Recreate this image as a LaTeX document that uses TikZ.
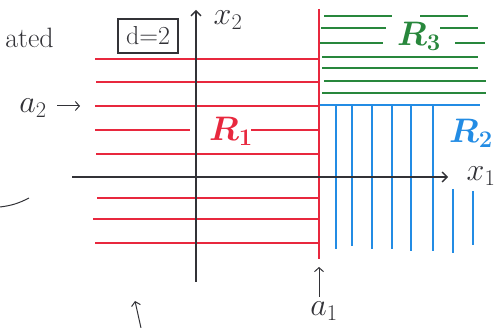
\RequirePackage{fix-cm}
\documentclass[tikz,border=0pt]{standalone}
\usetikzlibrary{arrows.meta}
\definecolor{rd}{RGB}{232,40,62}
\definecolor{gr}{RGB}{40,135,60}
\definecolor{bl}{RGB}{35,140,228}
\definecolor{ink}{RGB}{50,50,55}
\begin{document}
\begin{tikzpicture}[x=1pt,y=-1pt,
  redline/.style={rd,line width=1.6pt},
  greenline/.style={gr,line width=1.8pt},
  blueline/.style={bl,line width=1.6pt},
  axis/.style={ink,line width=1.3pt,-{Straight Barb[length=5pt,width=10pt]}},
  arr/.style={ink,line width=1pt,-{Straight Barb[length=4pt,width=9pt]}},
  lbl/.style={inner sep=0pt,font=\fontsize{32}{34}\selectfont},
  big/.style={inner sep=0pt,font=\fontsize{34}{36}\selectfont\boldmath}]
\useasboundingbox (0,0) rectangle (501,328);
% coordinates
\coordinate (x2b) at (196,282); \coordinate (x2t) at (196,10);
\coordinate (x1l) at (72,177); \coordinate (x1r) at (448,177);
\coordinate (rvt) at (319,9); \coordinate (rvb) at (319,259);
% red horizontal lines
\foreach \y/\a in {59/95,82/96,106/95,154/96,198/97,219/93,243/95}
  \draw[redline] (\a,\y) -- (318,\y);
\draw[redline] (96,177) -- (318,177);
\draw[redline] (95,130) -- (190,130);
\draw[redline] (251,130) -- (318,130);
\draw[redline] (rvt) -- (rvb);
% green lines
\draw[greenline] (324,16) -- (392,16);
\draw[greenline] (420,16) -- (468,16);
\draw[greenline] (321,28) -- (386,28);
\draw[greenline] (440,28) -- (478,28);
\draw[greenline] (320,43) -- (383,43);
\draw[greenline] (455,43) -- (485,43);
\draw[greenline] (322,57) -- (478,57);
\draw[greenline] (322,68) -- (478,68);
\draw[greenline] (324,81) -- (486,81);
\draw[greenline] (322,93) -- (486,93);
% blue lines
\draw[blueline] (320,105) -- (480,105);
\foreach \x/\b in {336/249,352/246,372/249,392/249,411/251,433/251}
  \draw[blueline] (\x,105) -- (\x,\b);
\draw[blueline] (453,189) -- (453,253);
\draw[blueline] (473,191) -- (473,245);
% axes
\draw[axis] (x2b) -- (x2t);
\draw[axis] (x1l) -- (x1r);
% labels
\node[lbl,ink] (lx2) at (228,20) {$x_2$};
\node[lbl,ink] (lx1) at (481,176) {$x_1$};
\node[big,rd] (R1) at (231,131) {$R_1$};
\node[big,gr] (R3) at (419,36) {$R_3$};
\node[big,bl] (R2) at (471,133) {$R_2$};
\node[lbl,ink] (la1) at (324,311) {$a_1$};
\node[lbl,ink] (la2) at (33,108) {$a_2$};
\node[ink,inner sep=0pt,font=\fontsize{28}{30}\selectfont,anchor=base east] (ated) at (54,48) {ated};
\node[ink,draw,line width=1.2pt,minimum width=60pt,minimum height=34pt,inner sep=0pt,font=\fontsize{26}{28}\selectfont] (d2) at (148,36) {d=2};
% arrows
\coordinate (a1s) at (319,297); \coordinate (a1e) at (319,267);
\draw[arr] (a1s) -- (a1e);
\coordinate (a2s) at (57,106); \coordinate (a2e) at (80,106);
\draw[arr] (a2s) -- (a2e);
\coordinate (bs) at (141,328); \coordinate (be) at (135,301);
\draw[arr] (bs) -- (be);
\coordinate (cs) at (0,207); \coordinate (ce) at (29,198);
\draw[ink,line width=1pt] (cs) to[bend right=10] (ce);
\end{tikzpicture}
\end{document}
